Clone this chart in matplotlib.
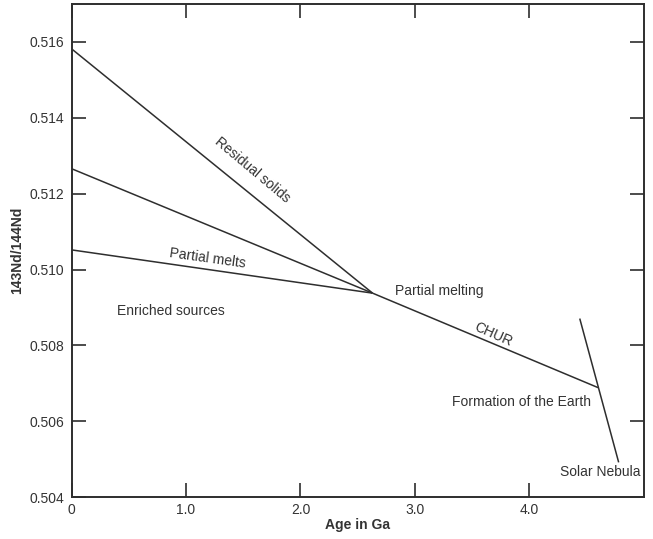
import matplotlib
matplotlib.use("Agg")
import matplotlib.pyplot as plt

plt.rcParams['font.family'] = ['Liberation Sans', 'DejaVu Sans']

# Data (age in Ga, 143Nd/144Nd)
converge_age = 2.63
converge_ratio = 0.50938
earth_age = 4.60
earth_ratio = 0.50689

residual_x = [0.0, converge_age]
residual_y = [0.51582, converge_ratio]
melt_upper_x = [0.0, converge_age]
melt_upper_y = [0.51266, converge_ratio]
melt_lower_x = [0.0, converge_age]
melt_lower_y = [0.51052, converge_ratio]
chur_x = [converge_age, earth_age]
chur_y = [converge_ratio, earth_ratio]
nebula_x = [4.44, 4.78]
nebula_y = [0.50871, 0.50492]

x_ticks = [0, 1.0, 2.0, 3.0, 4.0]
x_tick_labels = ["0", "1.0", "2.0", "3.0", "4.0"]
y_ticks = [0.504, 0.506, 0.508, 0.510, 0.512, 0.514, 0.516]
y_tick_labels = ["0.504", "0.506", "0.508", "0.510", "0.512", "0.514", "0.516"]

labels = [
    ("Residual solids", 1.58, 0.51262, -40),
    ("Partial melts", 1.19, 0.51030, -8),
    ("Enriched sources", 0.87, 0.50890, 0),
    ("Partial melting", 3.21, 0.50943, 0),
    ("CHUR", 3.68, 0.50828, -24),
    ("Formation of the Earth", 3.935, 0.50651, 0),
    ("Solar Nebula", 4.616, 0.50467, 0),
]

ink = "#2e2e2e"
txt = "#333333"

fig = plt.figure(figsize=(6.53, 5.39), dpi=100)
ax = fig.add_axes([0.1095, 0.0774, 0.8765, 0.9152])

for xs, ys in [(residual_x, residual_y), (melt_upper_x, melt_upper_y),
               (melt_lower_x, melt_lower_y), (chur_x, chur_y), (nebula_x, nebula_y)]:
    ax.plot(xs, ys, color=ink, lw=1.1, solid_capstyle='butt')

for s, x, y, rot in labels:
    ax.text(x, y, s, fontsize=10, color=txt, rotation=rot,
            ha='center', va='center', rotation_mode='anchor')

ax.set_xlim(0, 5.0)
ax.set_ylim(0.504, 0.517)
ax.set_xticks(x_ticks)
ax.set_xticklabels(x_tick_labels)
ax.set_yticks(y_ticks)
ax.set_yticklabels(y_tick_labels)

ax.tick_params(axis='both', direction='in', length=10, width=1.2, colors=ink,
               labelcolor=txt, labelsize=10, top=True, right=True)
ax.tick_params(axis='x', pad=4)
ax.tick_params(axis='y', pad=5)

for sp in ax.spines.values():
    sp.set_linewidth(1.4)
    sp.set_color(ink)

ax.set_xlabel("Age in Ga", fontsize=10, fontweight='bold', color=txt, labelpad=1)
ax.set_ylabel("143Nd/144Nd", fontsize=10, fontweight='bold', color=txt, labelpad=4)

fig.savefig("out.png", dpi=100)
